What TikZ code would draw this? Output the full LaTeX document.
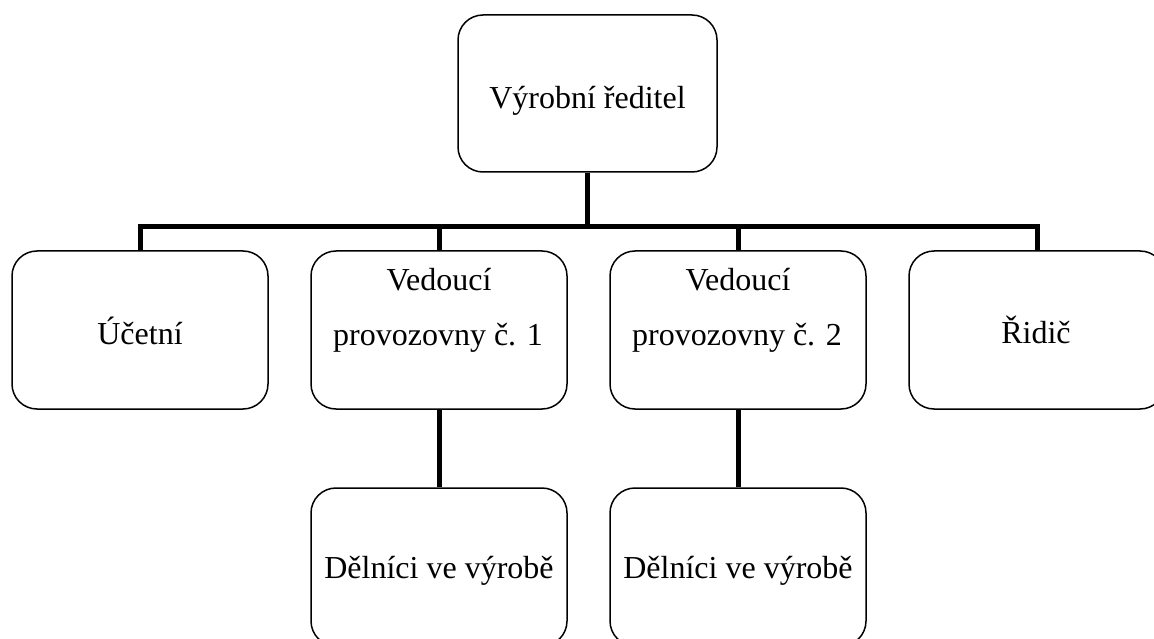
\documentclass[tikz,border=0pt]{standalone}
\usepackage{fontspec}
\setmainfont{Liberation Serif}
\begin{document}
\begin{tikzpicture}[x=1pt,y=-1pt,
  box/.style={draw=black, line width=1.5pt, rounded corners=25pt, minimum width=256pt, minimum height=158pt, inner sep=0pt},
  topbox/.style={box, minimum width=259pt, minimum height=157pt},
  lbl/.style={font=\fontsize{32}{38}\selectfont, inner sep=0pt, anchor=base, text=black},
  conn/.style={draw=black, line width=5pt, line join=miter}
]
\useasboundingbox (0,0) rectangle (1154,639);
\fill[white] (0,0) rectangle (1154,639);

% boxes
\node[topbox] (top) at (587.5,93.5) {};
\node[box] (b1) at (140,330) {};
\node[box] (b2) at (439,330) {};
\node[box] (b3) at (738,330) {};
\node[box] (b4) at (1037,330) {};
\node[box] (l1) at (439,567) {};
\node[box] (l2) at (738,567) {};

% texts
\node[lbl] (ttop) at (587.5,109) {Výrobní ředitel};
\node[lbl] (t1) at (140,344) {Účetní};
\node[lbl] (t2a) at (439,290) {Vedoucí};
\node[lbl] (t2b) at (438,345) {provozovny č. 1};
\node[lbl] (t3a) at (738,290) {Vedoucí};
\node[lbl] (t3b) at (737,345) {provozovny č. 2};
\node[lbl] (t4) at (1036,343) {Řidič};
\node[lbl] (tl1) at (439,578) {Dělníci ve výrobě};
\node[lbl] (tl2) at (738,578) {Dělníci ve výrobě};

% connectors
\coordinate (bus) at (587.5,227);
\draw[conn] (top.south) -- (bus);
\draw[conn] (b1.north) |- (bus) -| (b4.north);
\draw[conn] (b2.north) -- (b2.north |- bus);
\draw[conn] (b3.north) -- (b3.north |- bus);
\draw[conn] (b2.south) -- (l1.north);
\draw[conn] (b3.south) -- (l2.north);
\end{tikzpicture}
\end{document}
